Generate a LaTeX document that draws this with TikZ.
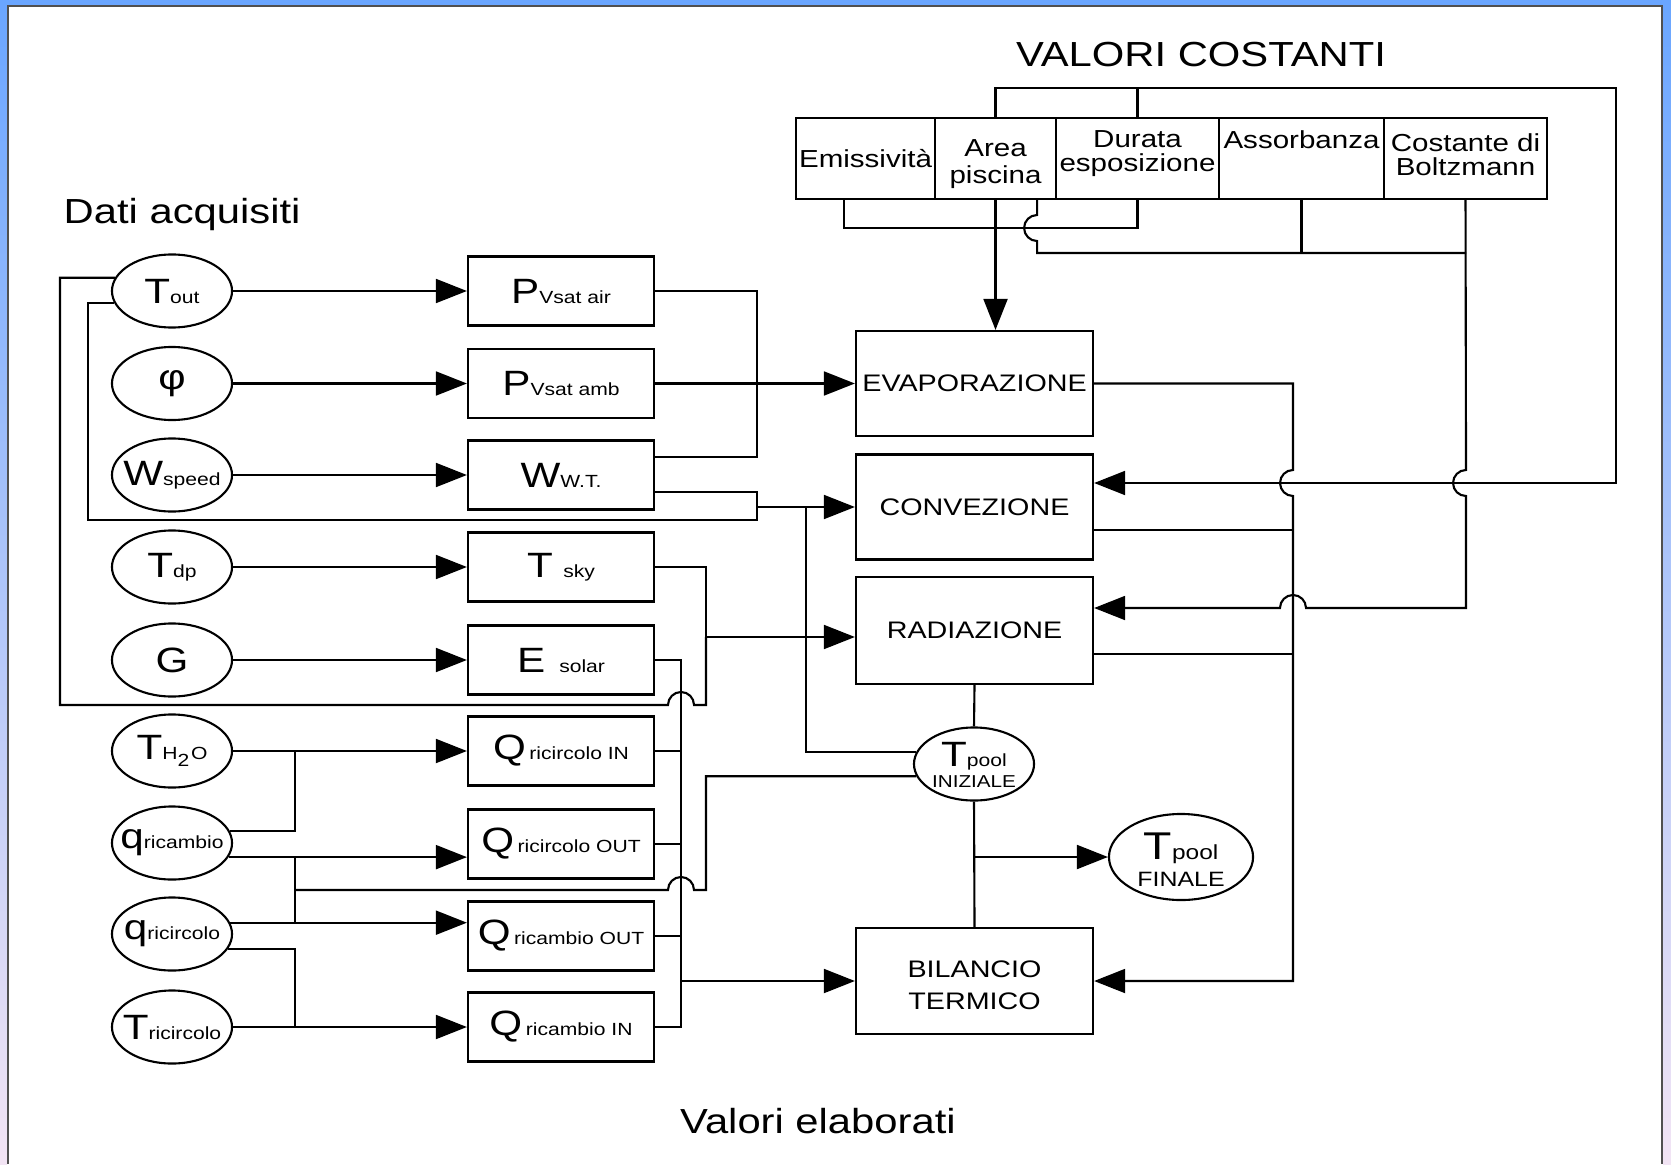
\documentclass[tikz,border=0pt]{standalone}
\usepackage{fontspec}
\setmainfont[FakeStretch=1.2]{Liberation Sans}
\usetikzlibrary{arrows.meta,calc,shapes.geometric}
\definecolor{cornice}{RGB}{106,166,255}
\definecolor{cornicebassa}{RGB}{242,228,244}
\definecolor{filo}{HTML}{505050}
\newcommand{\pedice}[1]{{\fontsize{5}{6}\selectfont #1}}
\newcommand{\duerighe}[4]{\smash{\raisebox{#4}{\vbox{\baselineskip=#3\halign{\hfil##\hfil\cr#1\cr#2\cr}}}}}

\tikzset{
  linea/.style={line width=0.6pt},
  freccia/.style={linea,-{Triangle[length=8.8pt,width=6.8pt]}},
  dato/.style={draw,linea,ellipse,inner sep=0pt,minimum width=1.2cm,minimum height=0.73cm,
    font=\fontsize{10}{12}\selectfont,
    execute at begin node={\hbox to 0pt\bgroup\hss},execute at end node={\hss\egroup}},
  valore/.style={draw,linea,inner sep=0pt,minimum width=1.86cm,minimum height=0.69cm,font=\fontsize{10}{12}\selectfont},
  blocco/.style={draw,linea,inner sep=0pt,minimum width=2.37cm,minimum height=1.05cm,align=center,font=\fontsize{6.8}{9.2}\selectfont},
  costante/.style={draw,linea,inner sep=0pt,minimum height=0.81cm,align=center,font=\fontsize{7}{6.8}\selectfont},
  titolo/.style={inner sep=0pt,font=\fontsize{9.9}{11}\selectfont},
}

\begin{document}
\begin{tikzpicture}[x=0.01cm,y=-0.01cm]
  \useasboundingbox (0,0) rectangle (1671,1164);
  % cornice della finestra
  \fill[white] (0,0) rectangle (1671,1164);
  \shade[top color=cornice,bottom color=cornicebassa] (0,0) rectangle (7,1164);
  \shade[top color=cornice,bottom color=cornicebassa] (1663,0) rectangle (1671,1164);
  \fill[cornice] (0,0) rectangle (1671,5);
  \draw[filo,line width=0.5pt] (8,1164) -- (8,6) -- (1662,6) -- (1662,1164);

  % titoli
  \node[titolo] (tcost) at (1201,55) {VALORI COSTANTI};
  \node[titolo,anchor=west] (tdati) at (63,215) {Dati acquisiti};
  \node[titolo] (telab) at (818,1121) {Valori elaborati};

  % valori costanti
  \node[costante,minimum width=1.39cm] (emis) at (865.5,158.5) {Emissività};
  \node[costante,minimum width=1.21cm] (area) at (995.5,158.5) {\rule{0pt}{8pt}Area\\[0.6pt]piscina};
  \node[costante,minimum width=1.63cm] (durata) at (1137.5,158.5) {Durata\\esposizione\rule[-4pt]{0pt}{0pt}};
  \node[costante,minimum width=1.65cm] (assorb) at (1301.5,158.5) {\raisebox{2.8pt}[0pt][0pt]{Assorbanza}};
  \node[costante,minimum width=1.63cm] (boltz) at (1465.5,158.5) {Costante di\\Boltzmann\rule[-2pt]{0pt}{0pt}};

  % dati acquisiti
  \node[dato] (tout) at (172,291) {T\pedice{out}};
  \node[dato] (phi) at (172,383.5) {φ};
  \node[dato] (wsp) at (172,475) {W\pedice{speed}};
  \node[dato] (tdp) at (172,567) {T\pedice{dp}};
  \node[dato] (g) at (172,660) {G};
  \node[dato] (th2o) at (172,751) {T\pedice{H\textsubscript{2}O}};
  \node[dato] (qrb) at (172,843) {q\pedice{ricambio}};
  \node[dato] (qrc) at (172,934) {q\pedice{ricircolo}};
  \node[dato] (tric) at (172,1027) {T\pedice{ricircolo}};

  % valori calcolati
  \node[valore] (pva) at (561,291) {P\pedice{Vsat air}};
  \node[valore] (pvb) at (561,383.5) {P\pedice{Vsat amb}};
  \node[valore] (wwt) at (561,475) {W\pedice{W.T.}};
  \node[valore] (tsky) at (561,567) {T\hspace{3pt}\pedice{sky}};
  \node[valore] (esol) at (561,660) {E\hspace{4pt}\pedice{solar}};
  \node[valore] (qrci) at (561,751) {Q\hspace{1pt}\pedice{ricircolo IN}};
  \node[valore] (qrco) at (561,844) {Q\hspace{1pt}\pedice{ricircolo OUT}};
  \node[valore] (qrbo) at (561,936) {Q\hspace{1pt}\pedice{ricambio OUT}};
  \node[valore] (qrbi) at (561,1027) {Q\hspace{1pt}\pedice{ricambio IN}};

  % blocchi di calcolo
  \node[blocco] (evap) at (974.5,383.5) {EVAPORAZIONE};
  \node[blocco] (conv) at (974.5,507) {CONVEZIONE};
  \node[blocco,minimum height=1.07cm] (rad) at (974.5,630.5) {RADIAZIONE};
  \node[blocco,minimum height=1.06cm] (bil) at (974.5,981) {\rule{0pt}{7pt}BILANCIO\\TERMICO};
  \node[dato] (tpi) at (974,764) {\duerighe{T\pedice{pool}}{\fontsize{4.9}{5}\selectfont INIZIALE}{6pt}{-6.8pt}};
  \node[dato,minimum width=1.44cm,minimum height=0.86cm] (tpf) at (1181,857)
    {\duerighe{\fontsize{11}{12}\selectfont T{\fontsize{5.8}{6}\selectfont pool}}{\fontsize{5.9}{6}\selectfont FINALE}{7.7pt}{-8.5pt}};

  % punti di raccordo
  \coordinate (nH) at (295,751);
  \coordinate (cL) at (88,520);
  \coordinate (cU) at (60,705);
  \coordinate (cP) at (757,383.5);
  \coordinate (cW) at (757,507);
  \coordinate (cC) at (806,507);
  \coordinate (cS) at (706,637);
  \coordinate (cT) at (706,890);
  \coordinate (cQ) at (681,981);
  \coordinate (cF) at (974,857);
  \coordinate (cR) at (1293,981);
  \coordinate (kA) at (1616,88);
  \coordinate (kB) at (1616,483);
  \coordinate (kE) at (844,228);
  \coordinate (kG) at (1466,253);
  \coordinate (kR) at (1466,608);

  % dati -> valori
  \foreach \a/\b in {tout/pva, phi/pvb, wsp/wwt, tdp/tsky, g/esol, th2o/qrci, tric/qrbi}
    \draw[freccia] (\a) -- (\b);
  \draw[freccia] (qrb.-14) -- (qrb.-14 -| qrco.west);
  \draw[freccia] (qrc.11) -- (qrc.11 -| qrbo.west);
  \draw[linea] (qrb.12) -| (nH);
  \draw[linea] (qrb.-14 -| nH) -- (qrc.11 -| nH);
  \draw[linea] (qrc.-15) -| (nH |- tric);

  % anelli di T_out
  \draw[linea] (tout.192) -| (cL) -| (cW);
  \draw[linea] (tout.167) -| (cU) -- ($(cQ |- cU)+(-13,0)$) arc[start angle=180,end angle=0,radius=1.3mm] -| (cS);

  % valori -> blocchi
  \draw[linea] (pva.east) -| (cP) |- (wwt.11);
  \draw[freccia] (pvb.east) -- (evap.west);
  \draw[linea] (wwt.-10) -| (cW);
  \draw[freccia] (cW) -- (conv.west);
  \draw[linea] (cC) |- (tpi.168);
  \draw[linea] (tsky.east) -| (cS);
  \draw[freccia] (cS) -- (rad.west |- cS);
  \draw[linea] (esol.east) -| (cQ |- qrbi.east) -- (qrbi.east);
  \foreach \q in {qrci, qrco, qrbo}
    \draw[linea] (\q.east) -- (\q.east -| cQ);
  \draw[freccia] (cQ) -- (bil.west);
  \draw[linea] (tpi.192) -| (cT) -- ($(cQ |- cT)+(13,0)$) arc[start angle=0,end angle=180,radius=1.3mm] -- (nH |- cT);

  % temperatura piscina
  \draw[linea] (rad.south) -- (tpi.north);
  \draw[linea] (tpi.south) -- (bil.north);
  \draw[freccia] (cF) -- (tpf.west);

  % valori costanti -> blocchi
  \draw[freccia] (area.north) |- (kA) -- (kB) -- (conv.east |- kB);
  \draw[linea] (durata.north) -- (durata.north |- kA);
  \draw[linea] (kE |- emis.south) -- (kE) -| (durata.south);
  \draw[freccia] (area.south) -- (area.south |- evap.north);
  \draw[linea] ($(area.south east)+(-20,0)$) -- ($(kE -| area.south east)+(-20,-13)$)
    arc[start angle=90,end angle=270,radius=1.3mm] |- (kG);
  \draw[linea] (assorb.south) -- (assorb.south |- kG);
  \draw[freccia] (boltz.south) -- ($(kB -| kR)+(0,-13)$) arc[start angle=90,end angle=270,radius=1.3mm]
    -- (kR) -- ($(cR |- kR)+(13,0)$) arc[start angle=0,end angle=180,radius=1.3mm] -- (rad.east |- kR);

  % blocchi -> bilancio
  \draw[freccia] (evap.east) -| ($(cR |- kB)+(0,-13)$) arc[start angle=90,end angle=270,radius=1.3mm]
    -- (cR) -- (bil.east);
  \draw[linea] (conv.-11.5) -- (conv.-11.5 -| cR);
  \draw[linea] (rad.-11.2) -- (rad.-11.2 -| cR);
\end{tikzpicture}
\end{document}
